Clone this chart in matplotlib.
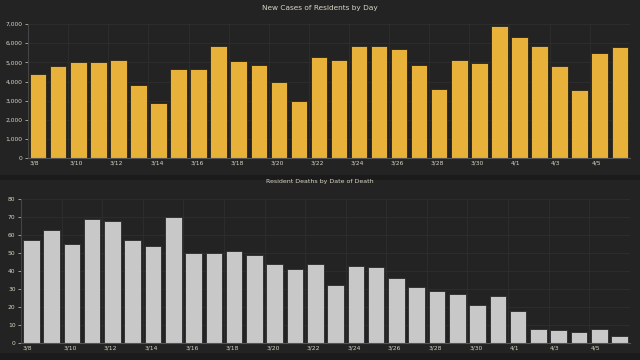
import matplotlib
matplotlib.use("Agg")
import matplotlib.pyplot as plt
from matplotlib.patches import Rectangle
from matplotlib.ticker import FuncFormatter

# data
dates = ["3/8", "3/9", "3/10", "3/11", "3/12", "3/13", "3/14", "3/15", "3/16", "3/17",
         "3/18", "3/19", "3/20", "3/21", "3/22", "3/23", "3/24", "3/25", "3/26", "3/27",
         "3/28", "3/29", "3/30", "3/31", "4/1", "4/2", "4/3", "4/4", "4/5", "4/6"]
cases = [4400, 4800, 5000, 5030, 5120, 3800, 2880, 4630, 4650, 5870,
         5060, 4880, 3950, 2980, 5280, 5140, 5840, 5840, 5680, 4840,
         3590, 5120, 4950, 6900, 6320, 5840, 4790, 3570, 5470, 5800]
deaths = [57, 63, 55, 69, 68, 57, 54, 70, 50, 50,
          51, 49, 44, 41, 44, 32, 43, 42, 36, 31,
          29, 27, 21, 26, 18, 8, 7, 6, 8, 4]

bg = "#232323"
txt = "#d8d4c4"
grid = "#2e2e2e"

fig = plt.figure(figsize=(6.4, 3.6), dpi=100, facecolor="#1b1b1b")
# panel backgrounds
fig.patches.append(Rectangle((0, 0.515), 1, 0.485, transform=fig.transFigure,
                             facecolor=bg, zorder=-10))
fig.patches.append(Rectangle((0, 0.02), 1, 0.48, transform=fig.transFigure,
                             facecolor=bg, zorder=-10))

x = list(range(len(dates)))


def style(ax, ymax, ystep):
    ax.set_facecolor(bg)
    ax.set_xlim(-0.5, len(dates) - 0.5)
    ax.set_ylim(0, ymax)
    ax.set_yticks(range(0, ymax + 1, ystep))
    ax.set_xticks([i - 0.42 for i in x[::2]])
    ax.set_xticklabels(dates[::2], ha="left")
    for i in x[::2]:
        ax.axvline(i - 0.5, color=grid, lw=0.6, zorder=0)
    ax.grid(axis="y", color=grid, lw=0.6, zorder=0)
    ax.set_axisbelow(True)
    for s in ax.spines.values():
        s.set_visible(False)
    ax.spines["bottom"].set_visible(True)
    ax.spines["bottom"].set_color("#555555")
    ax.spines["left"].set_visible(True)
    ax.spines["left"].set_color("#444444")
    ax.tick_params(colors=txt, labelsize=4.3, length=2, width=0.5, pad=2)
    ax.tick_params(axis="x", length=0)


# new cases
ax1 = fig.add_axes([0.044, 0.561, 0.94, 0.372])
ax1.bar(x, cases, width=0.82, color="#e8b23a", edgecolor="#2a2418", lw=0.6, zorder=2)
style(ax1, 7000, 1000)
ax1.yaxis.set_major_formatter(FuncFormatter(lambda v, p: f"{int(v):,}"))
fig.text(0.5, 0.978, "New Cases of Residents by Day", color=txt, fontsize=5.3,
         ha="center", va="center")

# deaths
ax2 = fig.add_axes([0.033, 0.047, 0.951, 0.40])
ax2.bar(x, deaths, width=0.82, color="#c8c8c8", edgecolor="#2a2a2a", lw=0.6, zorder=2)
style(ax2, 80, 10)
fig.text(0.5, 0.497, "Resident Deaths by Date of Death", color=txt, fontsize=4.5,
         ha="center", va="center")

fig.savefig("out.png", dpi=100, facecolor=fig.get_facecolor())
